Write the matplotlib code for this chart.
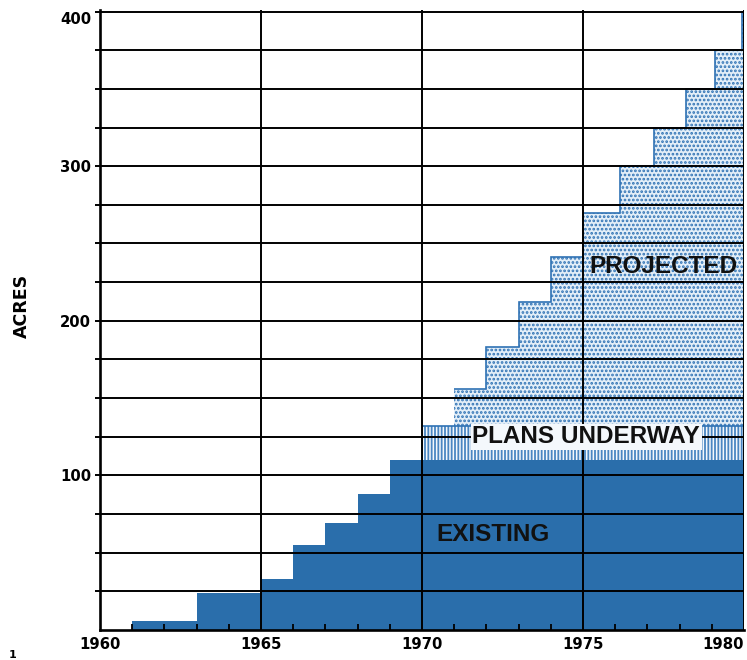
import matplotlib
matplotlib.use('Agg')
import matplotlib.pyplot as plt
from matplotlib.ticker import FixedLocator, FuncFormatter

plt.rcParams['hatch.linewidth'] = 1.3

# ---- data ----
existing_edges = [1961, 1963, 1965, 1966, 1967, 1968, 1969, 1980]
existing_acres = [6, 24, 33, 55, 69, 88, 110]

plans_edges = [1970, 1980]
plans_acres = [132]

projected_edges = [1971, 1972, 1973, 1974, 1975, 1976.15, 1977.2, 1978.2, 1979.1, 1979.95, 1980]
projected_acres = [156, 183, 212, 241, 270, 300, 325, 350, 375, 400]

year_ticks = [1960, 1965, 1970, 1975, 1980]
acre_gridlines = list(range(25, 401, 25))
acre_labels = [100, 200, 300, 400]

# ---- styling ----
BLUE = '#2a6eab'
DOT = '#2f72b4'
W, H = 747, 660

fig = plt.figure(figsize=(W / 100, H / 100), dpi=100)
ax = fig.add_axes([100 / W, 30 / H, 644 / W, 620 / H])

# Existing (solid)
ax.stairs(existing_acres, existing_edges, baseline=0, fill=True,
          facecolor=BLUE, edgecolor=BLUE, linewidth=0, zorder=1)

# Plans underway (vertical hatching)
ax.stairs(plans_acres, plans_edges, baseline=existing_acres[-1], fill=True,
          facecolor='#f4f8fc', edgecolor='#4a86c2', hatch='|||||', linewidth=0, zorder=1)
ax.stairs(plans_acres, plans_edges, baseline=None, color=DOT, linewidth=1.2, zorder=1.1)

# Projected (dotted)
ax.stairs(projected_acres, projected_edges, baseline=plans_acres[0], fill=True,
          facecolor='#e3eef8', edgecolor=DOT, hatch='....', linewidth=0, zorder=1)
ax.stairs(projected_acres, projected_edges, baseline=None, color=DOT, linewidth=1.2, zorder=1.1)

ax.set_xlim(year_ticks[0], year_ticks[-1])
ax.set_ylim(0, 401)

# grid
ax.set_axisbelow(False)
ax.yaxis.set_major_locator(FixedLocator(acre_gridlines))
ax.yaxis.set_major_formatter(FuncFormatter(lambda v, p: f'{int(v)}' if int(v) in acre_labels else ''))
ax.xaxis.set_major_locator(FixedLocator(year_ticks))
ax.xaxis.set_minor_locator(FixedLocator(list(range(year_ticks[0], year_ticks[-1] + 1))))
ax.grid(True, which='major', color='black', linewidth=1.4)

for s in ['top', 'right']:
    ax.spines[s].set_visible(False)
for s in ['left', 'bottom']:
    ax.spines[s].set_linewidth(1.9)
    ax.spines[s].set_zorder(3)

ax.tick_params(axis='y', which='major', direction='out', length=3.5, width=1.4,
               pad=3, labelsize=10.7, colors='black')
ax.tick_params(axis='x', which='major', length=0, pad=5, labelsize=10.7)
ax.tick_params(axis='x', which='minor', direction='in', length=4, width=1.3, color='black')

for lab in ax.get_xticklabels() + ax.get_yticklabels():
    lab.set_fontweight('bold')
    lab.set_fontfamily('DejaVu Sans')

# adjust edge labels like the reference
fig.canvas.draw()
xl = ax.get_xticklabels()
xl[-1].set_horizontalalignment('right')
for lab in ax.get_yticklabels():
    if lab.get_text() == '400':
        lab.set_verticalalignment('top')

# area labels
lbl = dict(fontfamily='Liberation Sans', fontweight='bold', fontsize=17.5,
           color='#111111', ha='center', va='center', zorder=4)
ax.text(1977.5, 235, 'PROJECTED', **lbl)
ax.text(1972.2, 62, 'EXISTING', **lbl)
ax.text(1975.1, 125, 'PLANS UNDERWAY',
        bbox=dict(facecolor='#f4f8fc', edgecolor='none', pad=1.0), **lbl)

fig.text(22 / W, 1 - 306 / H, 'ACRES', rotation=90, ha='center', va='center',
         fontsize=12.5, fontweight='bold', fontfamily='DejaVu Sans')
fig.text(9 / W, 0.0, '1', fontsize=8, fontweight='bold', va='bottom')

fig.savefig('out.png', dpi=100)
